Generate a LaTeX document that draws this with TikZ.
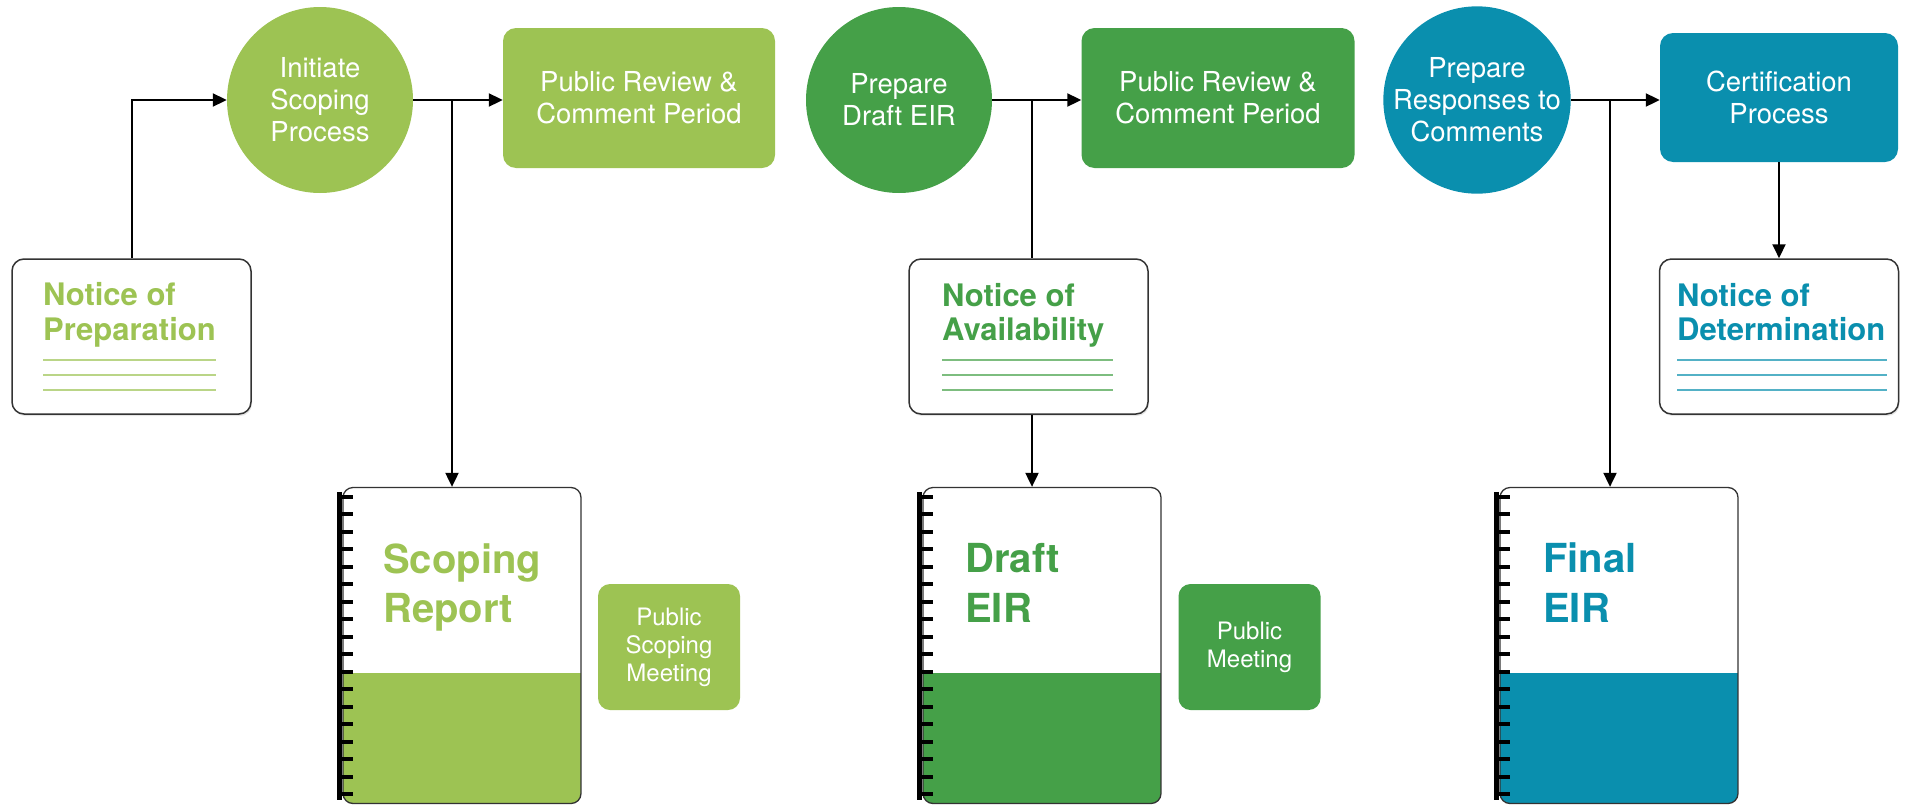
\documentclass[tikz,border=0pt]{standalone}
\usepackage{fontspec}
\setmainfont{TeX Gyre Heros}
\usetikzlibrary{arrows.meta,calc,shadows}
\definecolor{cA}{HTML}{9DC353}
\definecolor{cB}{HTML}{45A048}
\definecolor{cC}{HTML}{0A8FAE}
\begin{document}
\begin{tikzpicture}[x=1pt,y=-1pt,
  conn/.style={line width=2pt, draw=black},
  arr/.style={conn,-{Triangle[length=14pt,width=13pt]}},
  stage/.style={circle, fill=#1, minimum size=186pt, inner sep=0pt, text=white,
    align=center, font=\fontsize{27.5}{32}\selectfont},
  panel/.style={rectangle, rounded corners=13pt, fill=#1, inner sep=0pt, text=white,
    align=center, font=\fontsize{27.5}{32}\selectfont},
  meet/.style={panel=#1, rounded corners=12pt, minimum width=142pt, minimum height=126pt,
    font=\fontsize{24}{28}\selectfont},
  notice/.style={rectangle, rounded corners=12pt, draw=black!80, line width=1.5pt, fill=white,
    minimum width=239pt, minimum height=155pt,
    drop shadow={shadow xshift=1pt, shadow yshift=-2pt, opacity=0.2}},
  ntext/.style={anchor=base west, inner sep=0pt, text=#1, font=\bfseries\fontsize{31}{36}\selectfont},
  nline/.style={draw=#1!70, line width=1.3pt},
  binder/.style={rectangle, rounded corners=10pt, draw=black!80, line width=1.3pt, fill=white,
    minimum width=238pt, minimum height=316pt,
    path picture={\fill[#1, sharp corners] ([yshift=131pt]path picture bounding box.south west) rectangle (path picture bounding box.south east);}},
  btext/.style={anchor=base west, inner sep=0pt, text=#1, font=\bfseries\fontsize{40}{48}\selectfont},
]
\useasboundingbox (0,0) rectangle (1910,806);

% top row
\node[stage=cA] (c1) at (320,100) {Initiate\\Scoping\\Process};
\node[panel=cA, minimum width=272pt, minimum height=140pt] (b1) at (639,98) {Public Review \&\\Comment Period};
\node[stage=cB] (c2) at (899,100) {Prepare\\Draft EIR};
\node[panel=cB, minimum width=273pt, minimum height=140pt] (b2) at (1218,98) {Public Review \&\\Comment Period};
\node[stage=cC] (c3) at (1477,100) {Prepare\\Responses to\\Comments};
\node[panel=cC, minimum width=238pt, minimum height=129pt] (b3) at (1779,97.5) {Certification\\Process};

% notices
\node[notice] (n1) at (131.5,336.5) {};
\node[ntext=cA] (n1a) at (43,305) {Notice of};
\node[ntext=cA] (n1b) at (43,340) {Preparation};
\draw[nline=cA] (43,360) -- (216,360);
\draw[nline=cA] (43,375) -- (216,375);
\draw[nline=cA] (43,390) -- (216,390);

\node[notice] (n2) at (1028.5,336.5) {};
\node[ntext=cB] (n2a) at (942,306) {Notice of};
\node[ntext=cB] (n2b) at (942,340) {Availability};
\draw[nline=cB] (942,360) -- (1113,360);
\draw[nline=cB] (942,375) -- (1113,375);
\draw[nline=cB] (942,390) -- (1113,390);

\node[notice] (n3) at (1779,336.5) {};
\node[ntext=cC] (n3a) at (1677,306) {Notice of};
\node[ntext=cC] (n3b) at (1677,340) {Determination};
\draw[nline=cC] (1677,360) -- (1887,360);
\draw[nline=cC] (1677,375) -- (1887,375);
\draw[nline=cC] (1677,390) -- (1887,390);

% binders
\node[binder=cA] (r1) at (462,645.5) {};
\node[binder=cB] (r2) at (1042,645.5) {};
\node[binder=cC] (r3) at (1619,645.5) {};
\foreach \r in {r1,r2,r3}{
  \draw[line width=5pt] ($(\r.north west)+(-3,5)$) -- ($(\r.south west)+(-3,-4)$);
  \foreach \k in {0,...,17}{
    \draw[line width=4pt] ($(\r.north west)+(-5,10+17.5*\k)$) -- ++(16,0);
  }
}
\node[btext=cA] (r1a) at (383,573) {Scoping};
\node[btext=cA] (r1b) at (383,622) {Report};
\node[btext=cB] (r2a) at (965,572) {Draft};
\node[btext=cB] (r2b) at (965,622) {EIR};
\node[btext=cC] (r3a) at (1543,572) {Final};
\node[btext=cC] (r3b) at (1543,622) {EIR};

% meetings
\node[meet=cA] (m1) at (669,647) {Public\\Scoping\\Meeting};
\node[meet=cB] (m2) at (1249.5,647) {Public\\Meeting};

% connectors
\coordinate (j1) at (452,100);
\coordinate (j2) at (1032,100);
\coordinate (j3) at (1610,100);
\draw[arr] (n1.north) |- (c1.west);
\draw[arr] (c1.east) -- (c1.east -| b1.west);
\draw[arr] (j1) -- (j1 |- r1.north);
\draw[arr] (c2.east) -- (c2.east -| b2.west);
\draw[conn] (j2) -- (j2 |- n2.north);
\draw[arr] (j2 |- n2.south) -- (j2 |- r2.north);
\draw[arr] (c3.east) -- (c3.east -| b3.west);
\draw[arr] (j3) -- (j3 |- r3.north);
\draw[arr] (b3.south) -- (n3.north);
\end{tikzpicture}
\end{document}
